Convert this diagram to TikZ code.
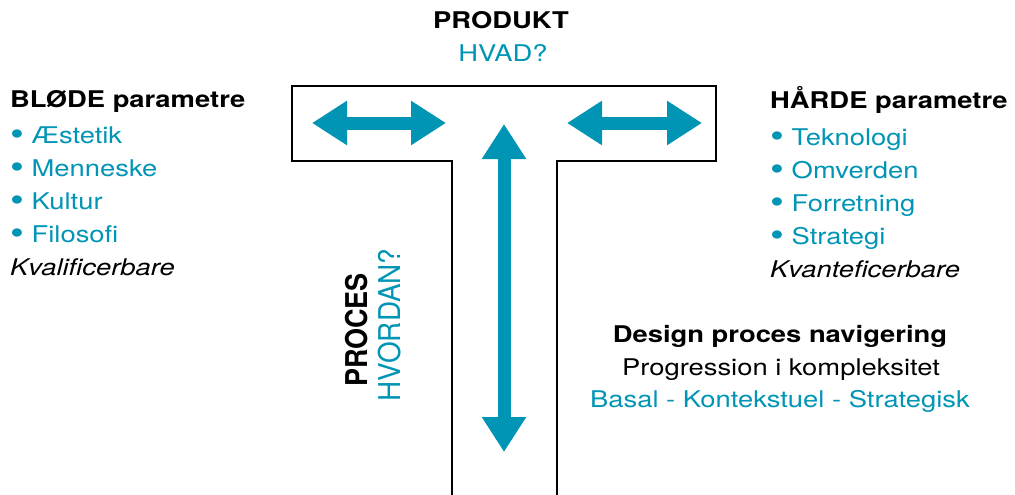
\documentclass[tikz,border=0pt]{standalone}
\usepackage{fontspec}
\setmainfont{TeX Gyre Heros}[FakeStretch=1.19]
\newfontfamily\rotfont{TeX Gyre Heros}[FakeStretch=0.9]
\newfontfamily\rotfontl{TeX Gyre Heros}[FakeStretch=0.93]
\usetikzlibrary{arrows.meta}
\definecolor{tblue}{HTML}{0094B5}
\newcommand{\bul}{\raisebox{-2.6pt}{\scalebox{1.45}{•}}~}
\tikzset{
  lbl/.style={inner sep=0pt, font=\fontsize{23}{27}\selectfont},
  blbl/.style={lbl, font=\fontsize{23}{27}\selectfont\bfseries},
  bluetxt/.style={lbl, text=tblue},
  itxt/.style={lbl, font=\fontsize{23}{27}\selectfont\itshape},
  rotlbl/.style={inner sep=0pt, rotate=90, anchor=base},
  fatarrow/.style={draw=tblue, line width=13pt,
    {Triangle[length=35pt,width=42pt,fill=tblue]}-{Triangle[length=35pt,width=42pt,fill=tblue]}},
  tshape/.style={draw=black, line width=2.2pt}
}
\begin{document}
\begin{tikzpicture}[x=1pt,y=-1pt]
\useasboundingbox (0,0) rectangle (1015,495);
% T outline
\draw[tshape] (452,497) -- (452,161) -- (292,161) -- (292,86) -- (716,86) -- (716,161) -- (557,161) -- (557,497);
% arrows
\coordinate (la1) at (312,123); \coordinate (la2) at (446,123);
\coordinate (ra1) at (567,123); \coordinate (ra2) at (702,123);
\coordinate (va1) at (504,124); \coordinate (va2) at (504,452);
\draw[fatarrow] (la1) -- (la2);
\draw[fatarrow] (ra1) -- (ra2);
\draw[fatarrow] (va1) -- (va2);
% top
\node[blbl, anchor=base] (prod) at (501,29) {PRODUKT};
\node[bluetxt, anchor=base] (hvad) at (503,62) {HVAD?};
% left
\node[blbl, anchor=base west] (blode) at (10,107) {BLØDE parametre};
\node[bluetxt, anchor=base west] (l1) at (10,143) {\bul Æstetik};
\node[bluetxt, anchor=base west] (l2) at (10,176) {\bul Menneske};
\node[bluetxt, anchor=base west] (l3) at (10,209) {\bul Kultur};
\node[bluetxt, anchor=base west] (l4) at (10,242) {\bul Filosofi};
\node[itxt, anchor=base west] (l5) at (10,275) {Kvalificerbare};
% right
\node[blbl, anchor=base west] (harde) at (770,108) {HÅRDE parametre};
\node[bluetxt, anchor=base west] (r1) at (770,145) {\bul Teknologi};
\node[bluetxt, anchor=base west] (r2) at (770,178) {\bul Omverden};
\node[bluetxt, anchor=base west] (r3) at (770,211) {\bul Forretning};
\node[bluetxt, anchor=base west] (r4) at (770,244) {\bul Strategi};
\node[itxt, anchor=base west] (r5) at (770,277) {Kvanteficerbare};
% design
\node[blbl, anchor=base] (design) at (780,342) {Design proces navigering};
\node[lbl, anchor=base] (prog) at (781,375) {Progression i kompleksitet};
\node[bluetxt, anchor=base] (basal) at (780,407) {Basal - Kontekstuel - Strategisk};
% proces
\node[rotlbl, font=\rotfont\fontsize{30}{34}\selectfont\bfseries] (proces) at (367,330) {PROCES};
\node[rotlbl, text=tblue, font=\rotfontl\fontsize{30}{34}\selectfont] (hvordan) at (400,325) {HVORDAN?};
\end{tikzpicture}
\end{document}
